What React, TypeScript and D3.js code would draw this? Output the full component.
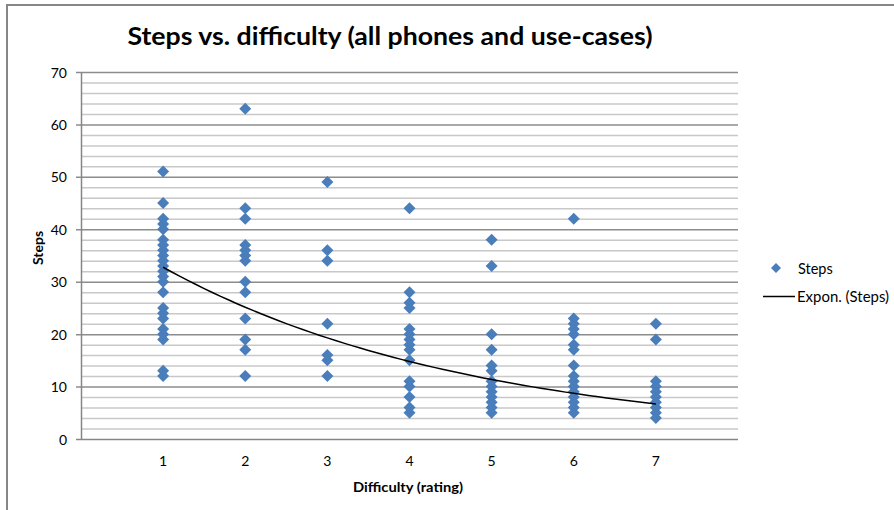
import React, { useEffect, useRef } from "react";
import * as d3 from "d3";

// difficulty ratings (x) and steps per case
const difficulty = [1, 2, 3, 4, 5, 6, 7];
const steps1 = [51, 45, 42, 41, 40, 38, 37, 36, 35, 34, 33, 32, 31, 30, 28, 25, 24, 23, 21, 20, 19, 13, 12];
const steps2 = [63, 44, 42, 37, 36, 35, 34, 30, 28, 23, 19, 17, 12];
const steps3 = [49, 36, 34, 22, 16, 15, 12];
const steps4 = [44, 28, 26, 25, 21, 20, 19, 18, 17, 15, 11, 10, 8, 6, 5];
const steps5 = [38, 33, 20, 17, 14, 13, 11, 10, 9, 8, 7, 6, 5];
const steps6 = [42, 23, 22, 21, 20, 18, 17, 14, 12, 11, 10, 9, 8, 7, 6, 5];
const steps7 = [22, 19, 11, 10, 9, 8, 7, 6, 5, 4];
const yTicks = [0, 10, 20, 30, 40, 50, 60, 70];

// Excel's exponential trendline y = a * e^(b x)
// (overlapping duplicates in the raw data are hidden, so a refit would be off)
const trendA = 42.7;
const trendB = -0.265;

const W = 894;
const H = 510;
const font = "Lato, 'Open Sans', sans-serif";

export default function App() {
  const ref = useRef<SVGSVGElement>(null);

  useEffect(() => {
    const svg = d3.select(ref.current);
    svg.selectAll("*").remove();

    const margin = { left: 81, right: 738, top: 72, bottom: 439 };
    const x = d3.scaleLinear().domain([0, 8]).range([margin.left, margin.right]);
    const y = d3.scaleLinear().domain([0, 70]).range([margin.bottom, margin.top]);

    const cols = [steps1, steps2, steps3, steps4, steps5, steps6, steps7];
    const points: any[] = [];
    cols.forEach((vals, i) => vals.forEach((v) => points.push({ x: difficulty[i], y: v })));

    // chart border
    svg.append("rect")
      .attr("x", 7).attr("y", 5).attr("width", W + 20).attr("height", H + 20)
      .attr("fill", "#fff").attr("stroke", "#868686").attr("stroke-width", 2);

    // minor gridlines every 2
    const minor = d3.range(2, 70, 2).filter((v) => v % 10 !== 0);
    svg.append("g").selectAll("line").data(minor).enter().append("line")
      .attr("x1", margin.left).attr("x2", margin.right)
      .attr("y1", (d) => y(d) + 0.5).attr("y2", (d) => y(d) + 0.5)
      .attr("stroke", "#c8c8c8").attr("stroke-width", 1.5);

    // major gridlines
    svg.append("g").selectAll("line").data(yTicks.slice(1)).enter().append("line")
      .attr("x1", margin.left - 5).attr("x2", margin.right)
      .attr("y1", (d) => y(d) + 0.5).attr("y2", (d) => y(d) + 0.5)
      .attr("stroke", "#8c8c8c").attr("stroke-width", 1.5);

    // axes
    svg.append("line")
      .attr("x1", margin.left + 0.5).attr("x2", margin.left + 0.5)
      .attr("y1", margin.top).attr("y2", margin.bottom)
      .attr("stroke", "#868686").attr("stroke-width", 1.5);
    svg.append("line")
      .attr("x1", margin.left - 5).attr("x2", margin.right)
      .attr("y1", margin.bottom + 0.5).attr("y2", margin.bottom + 0.5)
      .attr("stroke", "#868686").attr("stroke-width", 1.5);

    // y tick labels
    svg.append("g").selectAll("text").data(yTicks).enter().append("text")
      .attr("x", 67).attr("y", (d) => y(d))
      .attr("text-anchor", "end").attr("dominant-baseline", "central")
      .attr("font-family", font).attr("font-size", 14).attr("fill", "#000")
      .text((d) => d);

    // x tick labels
    svg.append("g").selectAll("text").data(difficulty).enter().append("text")
      .attr("x", (d) => x(d)).attr("y", 460)
      .attr("text-anchor", "middle").attr("dominant-baseline", "central")
      .attr("font-family", font).attr("font-size", 14).attr("fill", "#000")
      .text((d) => d);

    // diamonds
    const diamond = (cx: number, cy: number, r: number) =>
      `M${cx},${cy - r}L${cx + r},${cy}L${cx},${cy + r}L${cx - r},${cy}Z`;
    svg.append("g").selectAll("path").data(points).enter().append("path")
      .attr("d", (d: any) => diamond(x(d.x), y(d.y), 6))
      .attr("fill", "#4a7ebb");

    // exponential trendline
    const trend = d3.range(1, 7.001, 0.1).map((t) => [t, trendA * Math.exp(trendB * t)]);
    svg.append("path")
      .attr("d", d3.line().x((d) => x(d[0])).y((d) => y(d[1]))(trend as any)!)
      .attr("fill", "none").attr("stroke", "#000").attr("stroke-width", 1.5);

    // title
    svg.append("text")
      .attr("x", 390).attr("y", 35).attr("text-anchor", "middle").attr("dominant-baseline", "central")
      .attr("font-family", font).attr("font-weight", "bold").attr("font-size", 24)
      .attr("textLength", 525).attr("lengthAdjust", "spacingAndGlyphs")
      .text("Steps vs. difficulty (all phones and use-cases)");

    // axis titles
    svg.append("text")
      .attr("transform", "translate(37,248) rotate(-90)")
      .attr("text-anchor", "middle").attr("dominant-baseline", "central")
      .attr("font-family", font).attr("font-weight", "bold").attr("font-size", 14)
      .text("Steps");
    svg.append("text")
      .attr("x", 408).attr("y", 486)
      .attr("text-anchor", "middle").attr("dominant-baseline", "central")
      .attr("font-family", font).attr("font-weight", "bold").attr("font-size", 14)
      .attr("textLength", 110).attr("lengthAdjust", "spacingAndGlyphs")
      .text("Difficulty (rating)");

    // legend
    svg.append("path").attr("d", diamond(776, 268, 5)).attr("fill", "#4a7ebb");
    svg.append("text")
      .attr("x", 798).attr("y", 268).attr("dominant-baseline", "central")
      .attr("font-family", font).attr("font-size", 14.5).text("Steps");
    svg.append("line")
      .attr("x1", 763).attr("x2", 795).attr("y1", 296.5).attr("y2", 296.5)
      .attr("stroke", "#000").attr("stroke-width", 1.5);
    svg.append("text")
      .attr("x", 797).attr("y", 296).attr("dominant-baseline", "central")
      .attr("font-family", font).attr("font-size", 14.5)
      .attr("textLength", 92).attr("lengthAdjust", "spacingAndGlyphs")
      .text("Expon. (Steps)");
  }, []);

  return (
    <svg
      ref={ref}
      width={W}
      height={H}
      style={{ position: "absolute", left: 0, top: 0, display: "block", background: "#fff" }}
    />
  );
}
